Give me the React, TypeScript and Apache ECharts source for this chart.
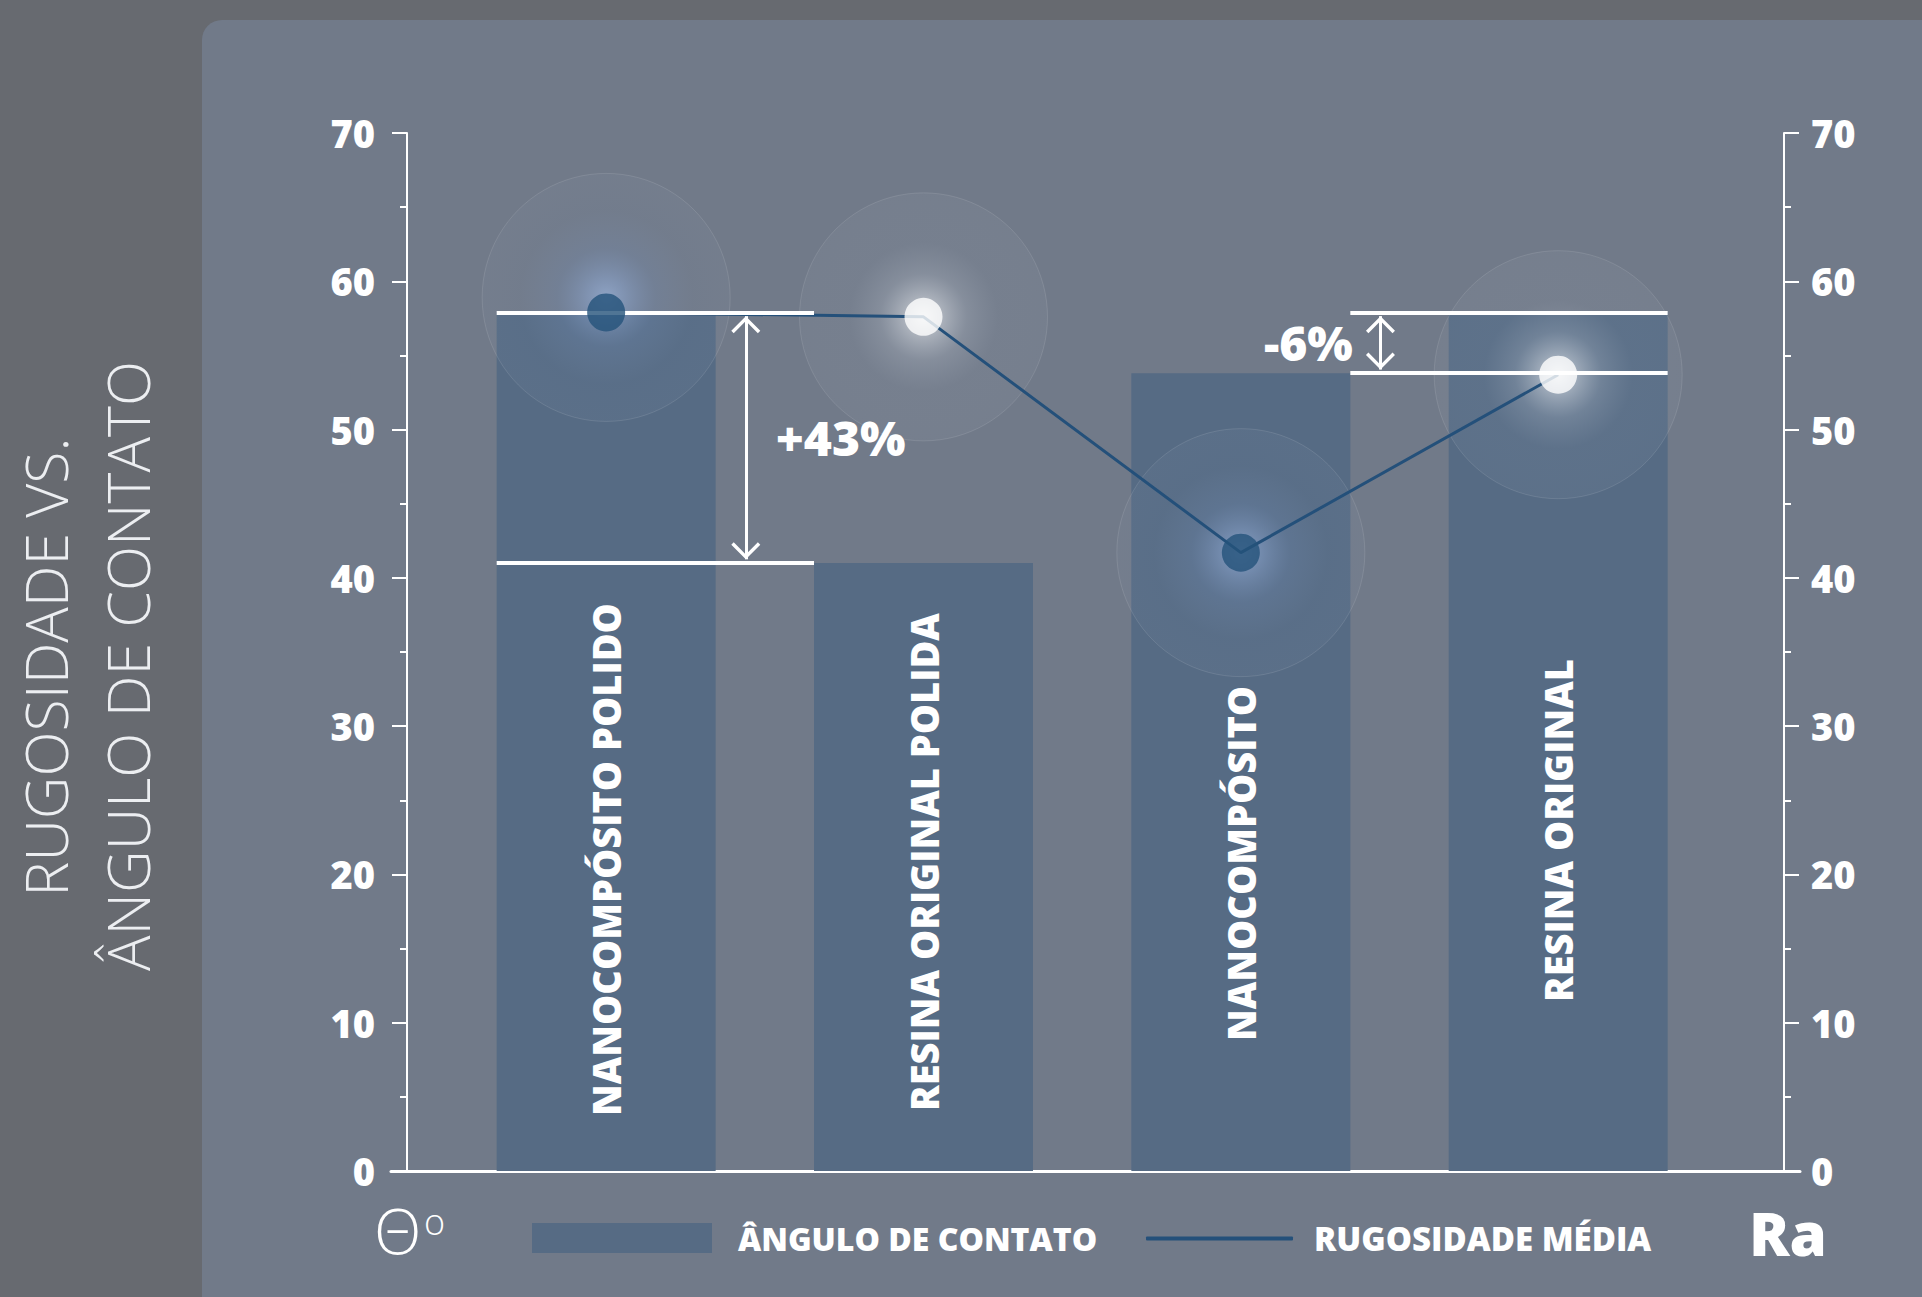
import React, { useEffect, useRef } from 'react';
import * as echarts from 'echarts';

// ---------- data ----------
const categories = ['NANOCOMPÓSITO POLIDO', 'RESINA ORIGINAL POLIDA', 'NANOCOMPÓSITO', 'RESINA ORIGINAL'];
const contactAngle = [57.9, 41.0, 53.8, 57.9];
const roughness = [57.9, 57.6, 41.7, 53.7];
const seriesNames = ['ÂNGULO DE CONTATO', 'RUGOSIDADE MÉDIA'];
const annotationTexts = ['+43%', '-6%'];
const yMin = 0;
const yMax = 70;
const yInterval = 10;

// ---------- styles ----------
const FONT = '"Open Sans", "Noto Sans", sans-serif';
const labelDistance = [55, 60, 130, 169];
const dotColors = ['#24527a', '#ffffff', '#24527a', '#ffffff'];
const glowKinds = ['blue', 'white', 'blue', 'white'];
const haloOffsets = [[0, -15], [0, 0], [0, 0], [0, 0]];
const BAR_HALF = 0.345; // half bar width in category units
const ARROW_X = 0.44;
const TIP_GAP = 0.25;
const CHEVRON = 'path://M15.5,0 L31,15.5 L28.4,18.1 L15.5,5.2 L2.6,18.1 L0,15.5 Z';

const glow = (kind: string) => ({
  type: 'radial', x: 0.5, y: 0.5, r: 0.5,
  colorStops: kind === 'white'
    ? [
        { offset: 0, color: 'rgba(255,255,255,0.9)' },
        { offset: 0.14, color: 'rgba(236,239,243,0.62)' },
        { offset: 0.35, color: 'rgba(205,212,222,0.28)' },
        { offset: 0.6, color: 'rgba(180,190,205,0.1)' },
        { offset: 1, color: 'rgba(200,208,220,0.07)' },
      ]
    : [
        { offset: 0, color: 'rgba(155,180,220,0.9)' },
        { offset: 0.15, color: 'rgba(140,166,208,0.7)' },
        { offset: 0.4, color: 'rgba(118,144,184,0.32)' },
        { offset: 0.7, color: 'rgba(130,150,180,0.1)' },
        { offset: 1, color: 'rgba(160,175,200,0.08)' },
      ],
});

export default function App() {
  const ref = useRef<HTMLDivElement>(null);

  useEffect(() => {
    if (!ref.current) return;
    const chart = echarts.init(ref.current, undefined, { renderer: 'svg' });
    const a = contactAngle;
    const points = roughness.map((v, i) => [i, v]);

    const axisLabelStyle = { color: '#ffffff', fontSize: 38, fontWeight: 800, fontFamily: FONT };
    const makeY = (right: boolean) => ({
      type: 'value',
      min: yMin,
      max: yMax,
      interval: yInterval,
      position: right ? 'right' : 'left',
      offset: -16,
      axisLine: { show: true, onZero: false, lineStyle: { color: '#ffffff', width: 2 } },
      axisTick: { show: true, length: 15, lineStyle: { color: '#ffffff', width: 2 } },
      minorTick: { show: true, splitNumber: 2, length: 7, lineStyle: { color: '#ffffff', width: 2 } },
      splitLine: { show: false },
      axisLabel: { ...axisLabelStyle, margin: right ? 27 : 32 },
    });

    // arrow geometry (in data units) for the two comparisons
    const arrows = [
      { x: 0 + ARROW_X, top: a[0] - TIP_GAP, bottom: a[1] + TIP_GAP },
      { x: 2 + ARROW_X, top: a[3] - TIP_GAP, bottom: a[2] + TIP_GAP },
    ];

    chart.setOption({
      animation: false,
      backgroundColor: '#676a70',
      grid: { left: 391, right: 122, top: 133, bottom: 126, containLabel: false, outerBoundsMode: 'none' },
      xAxis: {
        type: 'value',
        min: -0.678,
        max: 3.762,
        axisLine: { show: true, onZero: false, lineStyle: { color: '#ffffff', width: 3 } },
        axisTick: { show: false },
        axisLabel: { show: false },
        splitLine: { show: false },
      },
      yAxis: [makeY(false), makeY(true)],
      legend: [
        {
          data: [seriesNames[0]],
          left: 532, top: 1222, padding: 0,
          itemWidth: 180, itemHeight: 30, icon: 'rect', selectedMode: false,
          textStyle: { color: '#ffffff', fontSize: 32, fontWeight: 800, fontFamily: FONT, padding: [0, 0, 0, 21] },
        },
        {
          data: [{ name: seriesNames[1], itemStyle: { color: '#24507a' } }],
          left: 1146, top: 1222, padding: 0,
          itemWidth: 147, itemHeight: 4, icon: 'roundRect', selectedMode: false,
          textStyle: { color: '#ffffff', fontSize: 33, fontWeight: 800, fontFamily: FONT, padding: [0, 0, 0, 16] },
        },
      ],
      graphic: [
        { type: 'rect', z: 0, silent: true, shape: { x: 202, y: 20, width: 1720, height: 1277, r: [20, 0, 0, 0] }, style: { fill: '#717a89' } },
        { type: 'text', z: 1, x: 45, y: 667, rotation: Math.PI / 2, silent: true,
          style: { text: 'RUGOSIDADE VS.', fill: '#eceef1', fontSize: 59, fontWeight: 300, fontFamily: FONT, textAlign: 'center', textVerticalAlign: 'middle' } },
        { type: 'text', z: 1, x: 127, y: 666, rotation: Math.PI / 2, silent: true,
          style: { text: 'ÂNGULO DE CONTATO', fill: '#eceef1', fontSize: 59, fontWeight: 300, fontFamily: FONT, textAlign: 'center', textVerticalAlign: 'middle' } },
        { type: 'text', z: 1, x: 374, y: 1230, silent: true,
          style: { text: 'Θ', fill: '#ffffff', fontSize: 62, fontWeight: 300, fontFamily: FONT, textAlign: 'left', textVerticalAlign: 'middle' } },
        { type: 'text', z: 1, x: 424, y: 1221, silent: true,
          style: { text: 'o', fill: '#ffffff', fontSize: 36, fontWeight: 300, fontFamily: FONT, textAlign: 'left', textVerticalAlign: 'middle' } },
        { type: 'text', z: 1, x: 1749, y: 1233, silent: true,
          style: { text: 'Ra', fill: '#ffffff', fontSize: 60, fontWeight: 800, fontFamily: FONT, textAlign: 'left', textVerticalAlign: 'middle' } },
      ],
      series: [
        {
          type: 'bar',
          name: seriesNames[0],
          z: 2,
          barWidth: 219,
          data: a.map((v, i) => ({ value: [i, v], label: { distance: labelDistance[i] } })),
          itemStyle: { color: '#566b84' },
          label: {
            show: true,
            position: 'insideBottom',
            rotate: 90,
            align: 'left',
            verticalAlign: 'middle',
            formatter: (p: any) => categories[p.dataIndex],
            color: '#ffffff',
            fontSize: 38,
            fontWeight: 800,
            fontFamily: FONT,
          },
          markLine: {
            silent: true,
            symbol: 'none',
            label: { show: false },
            lineStyle: { color: '#ffffff', width: 4, type: 'solid' },
            data: [
              [{ coord: [0 - BAR_HALF, a[0]] }, { coord: [1 - BAR_HALF, a[0]] }],
              [{ coord: [0 - BAR_HALF, a[1]] }, { coord: [1 - BAR_HALF, a[1]] }],
              [{ coord: [2 + BAR_HALF, a[3]] }, { coord: [3 + BAR_HALF, a[3]] }],
              [{ coord: [2 + BAR_HALF, a[2]] }, { coord: [3 + BAR_HALF, a[2]] }],
            ],
          },
          markPoint: {
            silent: true,
            symbol: 'rect',
            symbolSize: 1,
            itemStyle: { color: 'rgba(0,0,0,0)' },
            label: { show: true, position: 'inside', formatter: (p: any) => p.name, color: '#ffffff', fontSize: 48, fontWeight: 800, fontFamily: FONT },
            data: [
              { name: annotationTexts[0], coord: [0 + 0.739, (a[0] + a[1]) / 2] },
              { name: annotationTexts[1], coord: [2 + 0.213, (a[3] + a[2]) / 2] },
            ],
          },
        },
        {
          type: 'scatter',
          name: 'halo',
          yAxisIndex: 1,
          z: 3,
          silent: true,
          symbol: 'circle',
          symbolSize: 248,
          data: points.map((p, i) => ({
            value: p,
            symbolOffset: haloOffsets[i],
            itemStyle: { color: glow(glowKinds[i]), borderColor: 'rgba(255,255,255,0.13)', borderWidth: 1 },
          })),
          markLine: {
            silent: true,
            symbol: 'none',
            label: { show: false },
            lineStyle: { color: '#ffffff', width: 3, type: 'solid' },
            data: arrows.map((r) => [{ coord: [r.x, r.top] }, { coord: [r.x, r.bottom] }]),
          },
          markPoint: {
            silent: true,
            symbol: CHEVRON,
            symbolSize: [29, 17],
            itemStyle: { color: '#ffffff' },
            label: { show: false },
            data: arrows.flatMap((r) => [
              { coord: [r.x, r.top], symbolRotate: 0, symbolOffset: [0, 8.5] },
              { coord: [r.x, r.bottom], symbolRotate: 180, symbolOffset: [0, -8.5] },
            ]),
          },
        },
        {
          type: 'line',
          name: seriesNames[1],
          yAxisIndex: 1,
          z: 4,
          showSymbol: false,
          symbol: 'none',
          data: points,
          lineStyle: { color: '#24507a', width: 3 },
          itemStyle: { color: '#24507a' },
        },
        {
          type: 'scatter',
          name: 'dots',
          yAxisIndex: 1,
          z: 7,
          silent: true,
          symbol: 'circle',
          symbolSize: 38,
          data: points.map((p, i) => ({ value: p, itemStyle: { color: dotColors[i] } })),
        },
      ],
    });

    return () => chart.dispose();
  }, []);

  return (
    <div
      ref={ref}
      style={{ position: 'absolute', left: 0, top: 0, width: 1922, height: 1297 }}
    />
  );
}
